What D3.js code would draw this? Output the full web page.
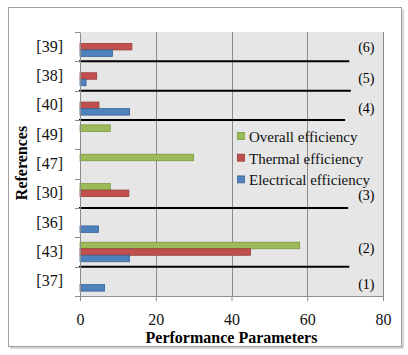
<!DOCTYPE html>
<html><head><meta charset="utf-8">
<script src="https://cdn.jsdelivr.net/npm/d3@7"></script>
<style>body{margin:0;background:#fff}svg{display:block}</style>
</head><body>
<script>
// Data (top-to-bottom order as displayed)
const categories = ["[39]","[38]","[40]","[49]","[47]","[30]","[36]","[43]","[37]"];
const seriesNames = ["Overall efficiency","Thermal efficiency","Electrical efficiency"];
const overall    = [null, null, null, 8, 30, 8, null, 58, null];
const thermal    = [13.7, 4.4, 5, null, null, 12.9, null, 45, null];
const electrical = [8.6, 1.6, 13.1, null, null, null, 4.9, 13.1, 6.5];
const xTicks = [0, 20, 40, 60, 80];
// separators: boundary below category, extent in data units
const sepAfter = ["[39]","[38]","[40]","[30]","[43]"];
const sepEnd   = [71.1, 71.5, 70, 70.8, 71.1];
const groupLabels = ["(6)","(5)","(4)","(3)","(2)","(1)"];
const groupLabelCats = ["[39]","[38]","[40]","[30]","[43]","[37]"];

const W = 408, H = 355;
const m = {l: 80, t: 32};
const pw = 383 - 80, ph = 296 - 32;
const colors = {"Overall efficiency":"#9bbb59","Thermal efficiency":"#c0504d","Electrical efficiency":"#4f81bd"};
const strokes = {"Overall efficiency":"#7a9a3e","Thermal efficiency":"#9b3b38","Electrical efficiency":"#3a6594"};
const values = {"Overall efficiency":overall,"Thermal efficiency":thermal,"Electrical efficiency":electrical};

const svg = d3.select("body").append("svg").attr("width", W).attr("height", H)
  .style("font-family", "'Liberation Serif','Times New Roman',serif");

// outer frame with shadow
svg.append("rect").attr("x", 10).attr("y", 9).attr("width", 394).attr("height", 340).attr("fill", "#d8d8d8");
svg.append("rect").attr("x", 8.5).attr("y", 7.5).attr("width", 393).attr("height", 339)
  .attr("fill", "#fff").attr("stroke", "#a0a0a0").attr("stroke-width", 1);

const g = svg.append("g").attr("transform", `translate(${m.l},${m.t})`);
const x = d3.scaleLinear().domain([0, 80]).range([0, pw]);
const y = d3.scaleBand().domain(categories).range([0, ph]);

// Excel gap width 150%
const bw = y.bandwidth() / 4.5;
const offs = {"Overall efficiency": 0.75 * bw, "Thermal efficiency": 1.75 * bw, "Electrical efficiency": 2.75 * bw};

g.append("rect").attr("width", pw).attr("height", ph).attr("fill", "#e6e6e6");

// gridlines
g.selectAll(".grid").data(xTicks.slice(1)).join("line")
  .attr("x1", d => Math.round(x(d)) + 0.5).attr("x2", d => Math.round(x(d)) + 0.5)
  .attr("y1", 0).attr("y2", ph).attr("stroke", "#8c8c8c").attr("stroke-width", 1);

// bars
seriesNames.forEach(s => {
  const data = categories.map((c, i) => ({c, v: values[s][i]})).filter(d => d.v != null);
  g.selectAll(null).data(data).join("rect")
    .attr("x", x(0)).attr("y", d => y(d.c) + offs[s])
    .attr("width", d => x(d.v)).attr("height", bw)
    .attr("fill", colors[s]).attr("stroke", strokes[s]).attr("stroke-width", 0.8);
});

// separators
g.selectAll(".sep").data(sepAfter.map((c, i) => ({c, e: sepEnd[i]}))).join("line")
  .attr("x1", -1).attr("x2", d => x(d.e))
  .attr("y1", d => y(d.c) + y.bandwidth()).attr("y2", d => y(d.c) + y.bandwidth())
  .attr("stroke", "#000").attr("stroke-width", 2);

// group labels
const lblOff = {"(6)": 5, "(5)": 7, "(4)": 8, "(3)": 7, "(2)": 1, "(1)": 8};
g.selectAll(".gl").data(groupLabels.map((t, i) => ({t, c: groupLabelCats[i]}))).join("text")
  .attr("x", x(75.6)).attr("y", d => y(d.c) + y.bandwidth() / 2 + lblOff[d.t])
  .attr("text-anchor", "middle").attr("font-size", 14).attr("fill", "#000").text(d => d.t);

// y axis
const ya = g.append("g").call(d3.axisLeft(y).tickSize(0).tickPadding(17));
ya.select(".domain").attr("stroke", "#8c8c8c");
ya.selectAll("text").attr("font-size", 16).attr("fill", "#111").attr("font-family", "'Liberation Serif',serif");
g.selectAll(".ytick").data(d3.range(categories.length + 1)).join("line")
  .attr("x1", -5).attr("x2", 0)
  .attr("y1", d => Math.round(d * y.step()) + 0.5).attr("y2", d => Math.round(d * y.step()) + 0.5)
  .attr("stroke", "#8c8c8c");

// x axis
const xa = g.append("g").attr("transform", `translate(0,${ph})`)
  .call(d3.axisBottom(x).tickValues(xTicks).tickSize(5).tickPadding(13));
xa.select(".domain").attr("stroke", "#8c8c8c");
xa.selectAll("line").attr("stroke", "#8c8c8c");
xa.selectAll("text").attr("font-size", 16).attr("fill", "#111").attr("font-family", "'Liberation Serif',serif");

// axis titles
svg.append("text").attr("x", m.l + pw / 2).attr("y", 343).attr("text-anchor", "middle")
  .attr("font-size", 16).attr("font-weight", "bold").text("Performance Parameters");
svg.append("text").attr("transform", "translate(27,163) rotate(-90)").attr("text-anchor", "middle")
  .attr("font-size", 16).attr("font-weight", "bold").text("References");

// legend
const lg = svg.append("g").attr("transform", "translate(237,137)");
seriesNames.forEach((s, i) => {
  const row = lg.append("g").attr("transform", `translate(0,${i * 21.7})`);
  row.append("rect").attr("x", 0.5).attr("y", -4.5).attr("width", 7).attr("height", 7)
    .attr("fill", colors[s]).attr("stroke", strokes[s]).attr("stroke-width", 0.8);
  row.append("text").attr("x", 12).attr("y", 5).attr("font-size", 15).attr("fill", "#111").text(s);
});
</script>
</body></html>
